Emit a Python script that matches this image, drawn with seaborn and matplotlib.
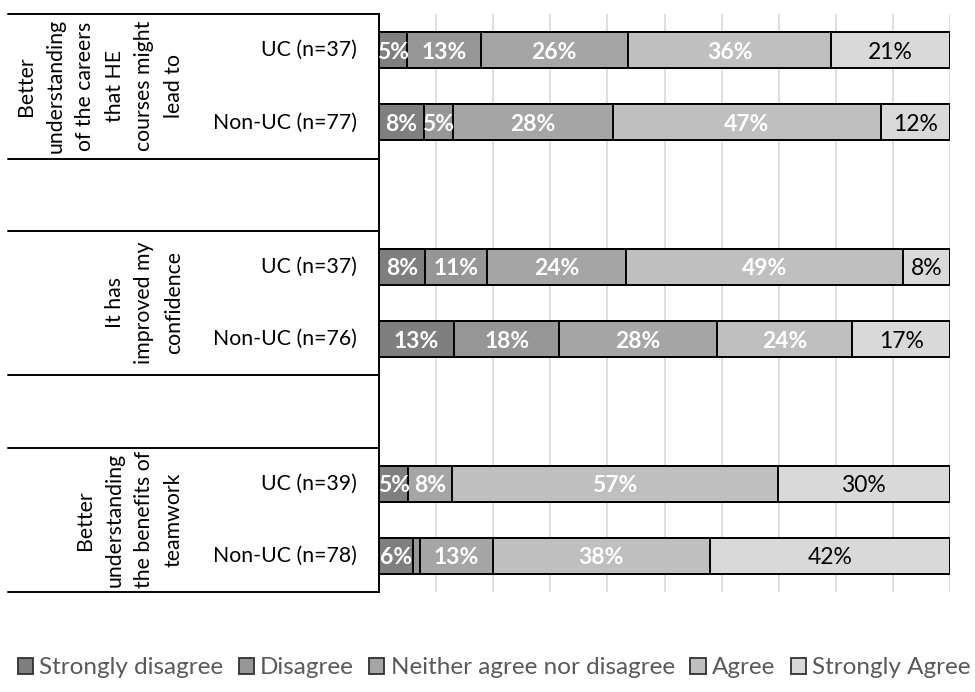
import numpy as np
import pandas as pd
import seaborn as sns
import matplotlib.pyplot as plt
from matplotlib.patches import Patch
from matplotlib.transforms import blended_transform_factory

# Response scale, in stacking order
levels = ["Strongly disagree", "Disagree", "Neither agree nor disagree",
          "Agree", "Strongly Agree"]

# Statement groups (wrapped as shown on the axis)
group_labels = [
    "Better\nunderstanding\nof the careers\nthat HE\ncourses might\nlead to",
    "It has\nimproved my\nconfidence",
    "Better\nunderstanding\nthe benefits of\nteamwork",
]
group_rows = [(0, 1), (3, 4), (6, 7)]

# Respondent rows
respondents = ["UC (n=37)", "Non-UC (n=77)", "UC (n=37)", "Non-UC (n=76)",
               "UC (n=39)", "Non-UC (n=78)"]
row_pos = [0, 1, 3, 4, 6, 7]

# Percentage of respondents per answer
strongly_disagree = [4.9, 7.9, 8.1, 13.2, 5.1, 5.9]
disagree = [12.9, 5.0, 10.8, 18.4, 0.0, 1.3]
neither = [25.8, 28.0, 24.3, 27.6, 7.7, 12.8]
agree = [35.6, 47.0, 48.6, 23.7, 57.0, 37.9]
strongly_agree = [20.8, 12.1, 8.2, 17.1, 30.2, 42.1]

colors = ["#7f7f7f", "#969696", "#a5a5a5", "#bfbfbf", "#d9d9d9"]
text_colors = ["white", "white", "white", "white", "black"]
text_weights = ["bold", "bold", "bold", "bold", "normal"]

sns.set_theme(style="white")
plt.rcParams["font.family"] = ["Lato", "DejaVu Sans"]

values = np.array([strongly_disagree, disagree, neither, agree, strongly_agree])
cum = np.cumsum(values, axis=0)

W, H = 975, 692
fig = plt.figure(figsize=(W / 100, H / 100), dpi=100)
ax = fig.add_axes([379 / W, 1 - 592 / H, 571 / W, (592 - 14) / H])

# vertical gridlines every 10%
for g in np.arange(10, 101, 10):
    ax.axvline(g, color="#d9d9d9", lw=1.2, zorder=0)

# stacked bars: draw cumulative totals from the longest down
for i in reversed(range(len(levels))):
    df = pd.DataFrame({"pct": cum[i], "row": row_pos})
    sns.barplot(data=df, x="pct", y="row", orient="h", native_scale=True,
                color=colors[i], saturation=1, edgecolor="black",
                linewidth=1.4, width=0.5, errorbar=None, ax=ax, zorder=2)

# segment labels
for i in range(len(levels)):
    for r, y in enumerate(row_pos):
        v = values[i, r]
        if v < 3:
            continue
        x = cum[i, r] - v / 2
        ax.text(x, y, f"{v:.0f}%", ha="center", va="center_baseline",
                color=text_colors[i], fontsize=16.5,
                fontweight=text_weights[i], zorder=5)

ax.set_xlim(0, 100)
ax.set_ylim(7.5, -0.5)
ax.set_xlabel("")
ax.set_ylabel("")
ax.set_xticks([])
ax.set_yticks([])
for side in ["top", "right", "bottom"]:
    ax.spines[side].set_visible(False)
ax.spines["left"].set_color("black")
ax.spines["left"].set_linewidth(1.4)

# category axis: respondent labels, group labels and separators
trans = blended_transform_factory(fig.transFigure, ax.transData)
for lab, y in zip(respondents, row_pos):
    ax.text(357 / W, y, lab, transform=trans, ha="right", va="center",
            fontsize=15.3, color="black")

for lab, (a, b) in zip(group_labels, group_rows):
    ax.text(184 / W, (a + b) / 2, lab, transform=trans, rotation=90,
            ha="right", va="center", multialignment="center",
            fontsize=15.3, linespacing=1.6, color="black")

for yb in [-0.5, 1.5, 2.5, 4.5, 5.5, 7.5]:
    ax.plot([8 / W, 379 / W], [yb, yb], transform=trans, color="black",
            lw=1.4, clip_on=False, zorder=3)

handles = [Patch(facecolor=c, edgecolor="#303030", linewidth=1.3) for c in colors]
leg = fig.legend(handles, levels, loc="center", ncol=5,
                 bbox_to_anchor=(494 / W, 1 - 668 / H), frameon=False,
                 fontsize=17.5, handlelength=0.62, handleheight=0.62,
                 handletextpad=0.25, columnspacing=0.65)
for t in leg.get_texts():
    t.set_color("#595959")

fig.savefig("out.png", dpi=100)
